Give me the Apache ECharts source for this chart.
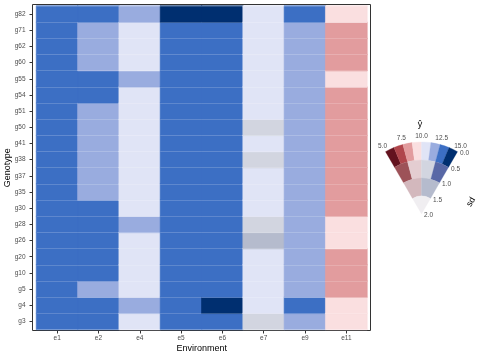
<!DOCTYPE html>
<html>
<head>
<meta charset="utf-8">
<script src="https://cdn.jsdelivr.net/npm/echarts@6/dist/echarts.min.js"></script>
<style>html,body{margin:0;padding:0;background:#fff}#main{width:478px;height:359px}</style>
</head>
<body>
<div id="main"></div>
<script>
// 基因型（自下而上）与环境
var genotypes = ['g3', 'g4', 'g5', 'g10', 'g20', 'g26', 'g28', 'g30', 'g35', 'g37', 'g38', 'g41', 'g50', 'g51', 'g54', 'g55', 'g60', 'g62', 'g71', 'g82'];
var environments = ['e1', 'e2', 'e4', 'e5', 'e6', 'e7', 'e9', 'e11'];

// 预测值 ŷ，顺序同 genotypes
var yhatE1 = [13.1, 13.1, 13.1, 13.1, 13.1, 13.1, 13.1, 13.1, 13.1, 13.1, 13.1, 13.1, 13.1, 13.1, 13.1, 13.1, 13.1, 13.1, 13.1, 13.1];
var yhatE2 = [13.1, 13.1, 11.9, 13.1, 13.1, 13.1, 13.1, 13.1, 11.9, 11.9, 11.9, 11.9, 11.9, 11.9, 13.1, 13.1, 11.9, 11.9, 11.9, 13.1];
var yhatE4 = [10.6, 11.9, 10.6, 10.6, 10.6, 10.6, 11.9, 10.6, 10.6, 10.6, 10.6, 10.6, 10.6, 10.6, 10.6, 11.9, 10.6, 10.6, 10.6, 11.9];
var yhatE5 = [13.1, 13.1, 13.1, 13.1, 13.1, 13.1, 13.1, 13.1, 13.1, 13.1, 13.1, 13.1, 13.1, 13.1, 13.1, 13.1, 13.1, 13.1, 13.1, 14.4];
var yhatE6 = [13.1, 14.4, 13.1, 13.1, 13.1, 13.1, 13.1, 13.1, 13.1, 13.1, 13.1, 13.1, 13.1, 13.1, 13.1, 13.1, 13.1, 13.1, 13.1, 14.4];
var yhatE7 = [11.2, 10.6, 10.6, 10.6, 10.6, 11.4, 11.2, 10.6, 10.6, 10.6, 11.2, 10.6, 11.2, 10.6, 10.6, 10.6, 10.6, 10.6, 10.6, 10.6];
var yhatE9 = [11.9, 13.1, 11.9, 11.9, 11.9, 11.9, 11.9, 11.9, 11.9, 11.9, 11.9, 11.9, 11.9, 11.9, 11.9, 11.9, 11.9, 11.9, 11.9, 13.1];
var yhatE11 = [9.4, 9.4, 8.2, 8.2, 8.2, 9.4, 9.4, 8.2, 8.2, 8.2, 8.2, 8.2, 8.2, 8.2, 8.2, 9.4, 8.2, 8.2, 8.2, 9.4];

// 标准差 sd，顺序同 genotypes
var sdE1 = [0.3, 0.3, 0.3, 0.3, 0.3, 0.3, 0.3, 0.3, 0.3, 0.3, 0.3, 0.3, 0.3, 0.3, 0.3, 0.3, 0.3, 0.3, 0.3, 0.3];
var sdE2 = [0.3, 0.3, 0.3, 0.3, 0.3, 0.3, 0.3, 0.3, 0.3, 0.3, 0.3, 0.3, 0.3, 0.3, 0.3, 0.3, 0.3, 0.3, 0.3, 0.3];
var sdE4 = [0.3, 0.3, 0.3, 0.3, 0.3, 0.3, 0.3, 0.3, 0.3, 0.3, 0.3, 0.3, 0.3, 0.3, 0.3, 0.3, 0.3, 0.3, 0.3, 0.3];
var sdE5 = [0.3, 0.3, 0.3, 0.3, 0.3, 0.3, 0.3, 0.3, 0.3, 0.3, 0.3, 0.3, 0.3, 0.3, 0.3, 0.3, 0.3, 0.3, 0.3, 0.3];
var sdE6 = [0.3, 0.3, 0.3, 0.3, 0.3, 0.3, 0.3, 0.3, 0.3, 0.3, 0.3, 0.3, 0.3, 0.3, 0.3, 0.3, 0.3, 0.3, 0.3, 0.3];
var sdE7 = [0.7, 0.3, 0.3, 0.3, 0.3, 1.2, 0.7, 0.3, 0.3, 0.3, 0.7, 0.3, 0.7, 0.3, 0.3, 0.3, 0.3, 0.3, 0.3, 0.3];
var sdE9 = [0.3, 0.3, 0.3, 0.3, 0.3, 0.3, 0.3, 0.3, 0.3, 0.3, 0.3, 0.3, 0.3, 0.3, 0.3, 0.3, 0.3, 0.3, 0.3, 0.3];
var sdE11 = [0.3, 0.3, 0.3, 0.3, 0.3, 0.3, 0.3, 0.3, 0.3, 0.3, 0.3, 0.3, 0.3, 0.3, 0.3, 0.3, 0.3, 0.3, 0.3, 0.3];

// 图例刻度
var yhatTicks = [5, 7.5, 10, 12.5, 15];
var sdTicks = [0, 0.5, 1, 1.5, 2];

var yhatCols = [yhatE1, yhatE2, yhatE4, yhatE5, yhatE6, yhatE7, yhatE9, yhatE11];
var sdCols = [sdE1, sdE2, sdE4, sdE5, sdE6, sdE7, sdE9, sdE11];

// VSUP 调色板：每一层 sd 对应一行，越不确定颜色越少
var vsupPalette = [
    ['#63121e', '#b0464c', '#e29c9e', '#fadfe0', '#e0e4f6', '#99acdf', '#3c6fc4', '#002f70'],
    ['#9d5258', '#e4cdd1', '#d2d5e0', '#5868a6'],
    ['#d3b8bd', '#b5bbcd'],
    ['#f0eef1']
];
var yhatRange = [5, 15];
var sdRange = [0, 2];

function vsupCode(yhat, sd) {
    var levels = vsupPalette.length;
    var step = (sdRange[1] - sdRange[0]) / levels;
    var level = Math.min(levels - 1, Math.max(0, Math.floor((sd - sdRange[0]) / step)));
    var nBins = vsupPalette[level].length;
    var w = (yhatRange[1] - yhatRange[0]) / nBins;
    var bin = Math.max(0, Math.min(nBins - 1, Math.floor((yhat - yhatRange[0]) / w)));
    return level * 8 + bin;
}
function codeColor(code) {
    return vsupPalette[Math.floor(code / 8)][code % 8];
}

// 热图数据 [env, genotype, code]，颜色直接由 VSUP 编码取得
var heatData = [];
for (var i = 0; i < environments.length; i++) {
    for (var j = 0; j < genotypes.length; j++) {
        var code = vsupCode(yhatCols[i][j], sdCols[i][j]);
        var c = codeColor(code);
        heatData.push({value: [i, j, code], itemStyle: {color: c, borderColor: c, borderWidth: 0.6}});
    }
}
// 图例扇形单元 [sd0, sd1, yhat0, yhat1, code]
var fanCells = [];
vsupPalette.forEach(function (row, level) {
    var step = (sdRange[1] - sdRange[0]) / vsupPalette.length;
    var w = (yhatRange[1] - yhatRange[0]) / row.length;
    row.forEach(function (c, bin) {
        fanCells.push([level * step, (level + 1) * step, yhatRange[0] + bin * w, yhatRange[0] + (bin + 1) * w, level * 8 + bin]);
    });
});

var font = 'Liberation Sans, Arial, sans-serif';
var labelColor = '#4d4d4d';

function polarInfo(params, p) {
    var cs = params.coordSys;
    var dx = p[0] - cs.cx, dy = p[1] - cs.cy;
    return {cx: cs.cx, cy: cs.cy, r: Math.sqrt(dx * dx + dy * dy), a: Math.atan2(dy, dx)};
}

var myChart = echarts.init(document.getElementById('main'), null, {renderer: 'canvas'});
var option = {
    animation: false,
    grid: [
        {left: 36.5, top: 6, width: 330.5, height: 323.5, outerBoundsMode: 'none', containLabel: false},
        // 外框
        {left: 32.5, top: 4.5, width: 338, height: 326, show: true, borderColor: '#333333', borderWidth: 1, backgroundColor: 'transparent', outerBoundsMode: 'none', containLabel: false}
    ],
    xAxis: [{
        type: 'category',
        data: environments,
        gridIndex: 0,
        offset: 1,
        axisLine: {show: false},
        axisTick: {show: true, alignWithLabel: true, length: 3, lineStyle: {color: '#333333'}},
        axisLabel: {fontSize: 6.5, color: labelColor, fontFamily: font, margin: 4},
        splitLine: {show: false},
        name: 'Environment',
        nameLocation: 'middle',
        nameGap: 14,
        nameMoveOverlap: false,
        nameTextStyle: {fontSize: 9, color: '#000', fontFamily: font}
    }, {
        type: 'value', gridIndex: 1, show: false
    }],
    yAxis: [{
        type: 'category',
        data: genotypes,
        gridIndex: 0,
        offset: 4,
        z: 3,
        axisLine: {show: false},
        axisTick: {show: true, alignWithLabel: true, length: 3, lineStyle: {color: '#333333'}},
        axisLabel: {fontSize: 6.5, color: labelColor, fontFamily: font, margin: 7},
        // 瓦片之间的细缝
        splitLine: {show: true, lineStyle: {color: 'rgba(255,255,255,0.18)', width: 1}},
        name: 'Genotype',
        nameLocation: 'middle',
        nameGap: 20,
        nameMoveOverlap: false,
        nameTextStyle: {fontSize: 9, color: '#000', fontFamily: font}
    }, {
        type: 'value', gridIndex: 1, show: false
    }],
    polar: {center: [421.5, 214], radius: 72},
    angleAxis: {
        type: 'value', min: yhatRange[0], max: yhatRange[1],
        startAngle: 120, endAngle: 60, clockwise: true,
        axisLine: {show: false}, axisTick: {show: false}, axisLabel: {show: false}, splitLine: {show: false}
    },
    radiusAxis: {
        type: 'value', min: sdRange[0], max: sdRange[1], inverse: true,
        axisLine: {show: false}, axisTick: {show: false}, axisLabel: {show: false}, splitLine: {show: false}
    },
    graphic: [
        {type: 'text', x: 420, y: 125, style: {text: 'ŷ', font: '9px ' + font, fill: '#000', align: 'center', verticalAlign: 'middle'}},
        {type: 'text', x: 471, y: 202, rotation: Math.PI / 3, style: {text: 'sd', font: '9px ' + font, fill: '#000', align: 'center', verticalAlign: 'middle'}}
    ],
    series: [{
        type: 'heatmap',
        xAxisIndex: 0,
        yAxisIndex: 0,
        data: heatData,
        z: 2,
        emphasis: {disabled: true}
    }, {
        // 扇形图例
        type: 'custom',
        coordinateSystem: 'polar',
        data: fanCells,
        encode: {radius: [0, 1], angle: [2, 3]},
        clip: false,
        silent: true,
        renderItem: function (params, api) {
            var o = polarInfo(params, api.coord([api.value(0), api.value(2)]));
            var e = polarInfo(params, api.coord([api.value(0), api.value(3)]));
            var inn = polarInfo(params, api.coord([api.value(1), api.value(2)]));
            var fill = codeColor(api.value(4));
            return {
                type: 'sector',
                shape: {cx: o.cx, cy: o.cy, r0: inn.r, r: o.r, startAngle: o.a, endAngle: e.a, clockwise: true},
                style: {fill: fill, stroke: fill, lineWidth: 0.3}
            };
        }
    }, {
        // ŷ 刻度
        type: 'custom',
        coordinateSystem: 'polar',
        data: yhatTicks.map(function (t) { return [sdRange[0], t]; }),
        clip: false,
        silent: true,
        renderItem: function (params, api) {
            var o = polarInfo(params, api.coord([api.value(0), api.value(1)]));
            var rr = o.r + 6;
            return {
                type: 'text',
                x: o.cx + rr * Math.cos(o.a),
                y: o.cy + rr * Math.sin(o.a),
                style: {text: api.value(1).toFixed(1), font: '6.5px ' + font, fill: labelColor, align: 'center', verticalAlign: 'middle'}
            };
        }
    }, {
        // sd 刻度
        type: 'custom',
        coordinateSystem: 'polar',
        data: sdTicks.map(function (s) { return [s, yhatRange[1]]; }),
        clip: false,
        silent: true,
        renderItem: function (params, api) {
            var p = api.coord([api.value(0), api.value(1)]);
            var edge = polarInfo(params, api.coord([sdRange[0], api.value(1)]));
            var nx = -Math.sin(edge.a), ny = Math.cos(edge.a);
            return {
                type: 'text',
                x: p[0] + nx * 3,
                y: p[1] + ny * 3,
                style: {text: api.value(0).toFixed(1), font: '6.5px ' + font, fill: labelColor, align: 'left', verticalAlign: 'middle'}
            };
        }
    }]
};
myChart.setOption(option);
</script>
</body>
</html>
